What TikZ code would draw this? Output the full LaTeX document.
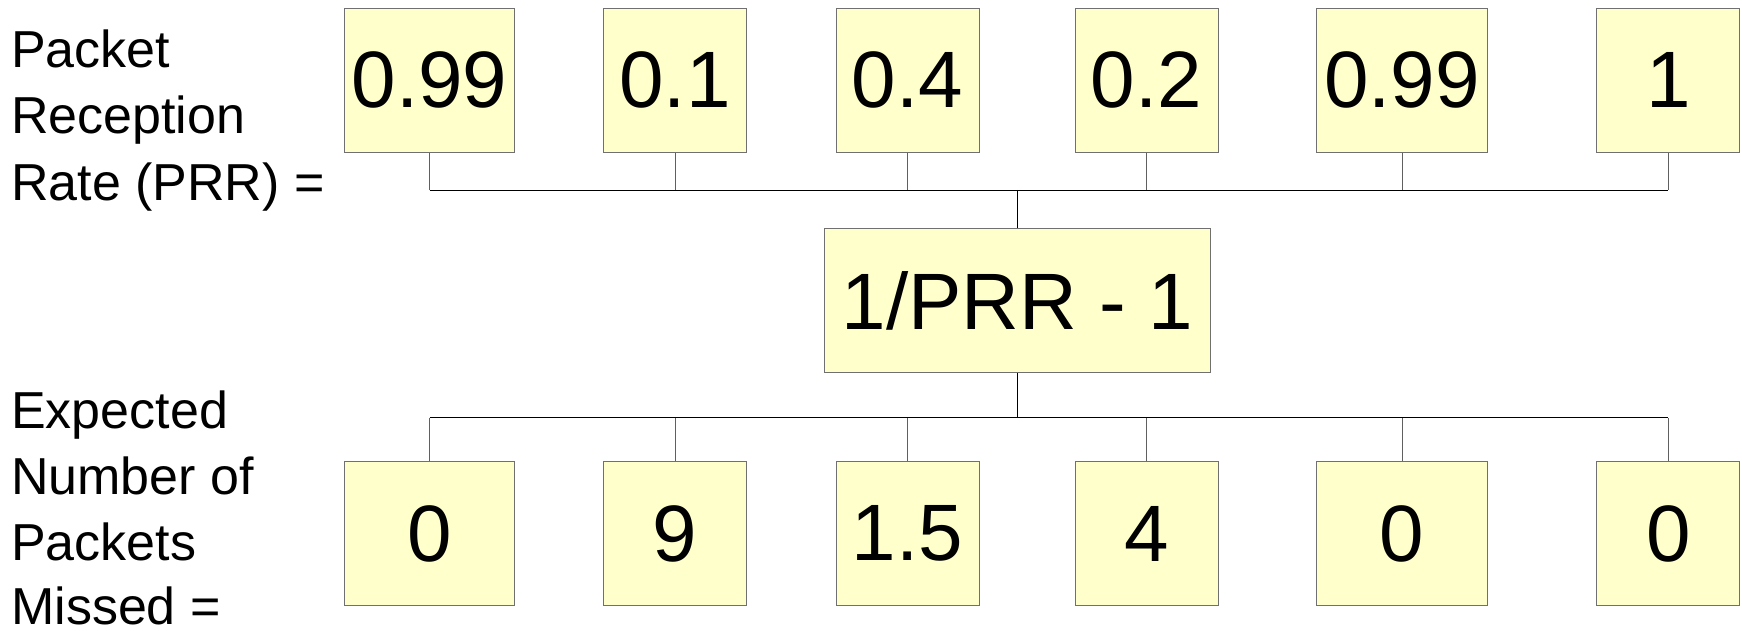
\documentclass[tikz,border=0pt]{standalone}
\usepackage{fontspec}
\setmainfont{Liberation Sans}
\definecolor{boxfill}{HTML}{FFFFCC}
\definecolor{boxline}{HTML}{707070}
\definecolor{stubline}{HTML}{606060}
\begin{document}
\begin{tikzpicture}[x=1pt,y=-1pt,
  valbox/.style={draw=boxline,line width=1pt,fill=boxfill,inner sep=0pt,
    minimum height=143.5pt,font=\fontsize{80}{96}\selectfont},
  lbl/.style={anchor=base west,inner sep=0pt,font=\fontsize{52}{60}\selectfont},
  bus/.style={draw=black,line width=1pt},
  stub/.style={draw=stubline,line width=0.9pt}]
\useasboundingbox (0,0) rectangle (1742,630);
% top row
\node[valbox,minimum width=170pt] (t1) at (429.5,80.4) {0.99};
\node[valbox,minimum width=143pt] (t2) at (675,80.4) {0.1};
\node[valbox,minimum width=143pt] (t3) at (907.5,80.4) {0.4};
\node[valbox,minimum width=143pt] (t4) at (1146.5,80.4) {0.2};
\node[valbox,minimum width=171pt] (t5) at (1402,80.4) {0.99};
\node[valbox,minimum width=143pt] (t6) at (1668.3,80.4) {1};
% center
\node[valbox,minimum width=386pt] (c) at (1017.5,300.6) {1/PRR - 1};
% bottom row
\node[valbox,minimum width=170pt] (b1) at (429.5,533.5) {0};
\node[valbox,minimum width=143pt] (b2) at (675,533.5) {9};
\node[valbox,minimum width=143pt] (b3) at (907.5,533.5) {1.5};
\node[valbox,minimum width=143pt] (b4) at (1146.5,533.5) {4};
\node[valbox,minimum width=171pt] (b5) at (1402,533.5) {0};
\node[valbox,minimum width=143pt] (b6) at (1668.3,533.5) {0};
% labels
\node[lbl] (pl1) at (11,67.5) {Packet};
\node[lbl] (pl2) at (11,133.5) {Reception};
\node[lbl] (pl3) at (11,200) {Rate (PRR) =};
\node[lbl] (el1) at (11,428.5) {Expected};
\node[lbl] (el2) at (11,494.5) {Number of};
\node[lbl] (el3) at (11,560) {Packets};
\node[lbl] (el4) at (11,624.5) {Missed =};
% bus coordinates
\coordinate (tb) at (1017.5,190.2);
\coordinate (bb) at (1017.5,417.5);
% top connectors
\foreach \n in {t1,t2,t3,t4,t5,t6}{
  \draw[stub] (\n.south) -- (\n.south |- tb);
}
\draw[bus] (t1.south |- tb) -- (t6.south |- tb);
\draw[bus,line width=1.3pt] (c.north) -- (tb);
% bottom connectors
\foreach \n in {b1,b2,b3,b4,b5,b6}{
  \draw[stub] (\n.north) -- (\n.north |- bb);
}
\draw[bus] (b1.north |- bb) -- (b6.north |- bb);
\draw[bus,line width=1.3pt] (c.south) -- (bb);
\end{tikzpicture}
\end{document}
